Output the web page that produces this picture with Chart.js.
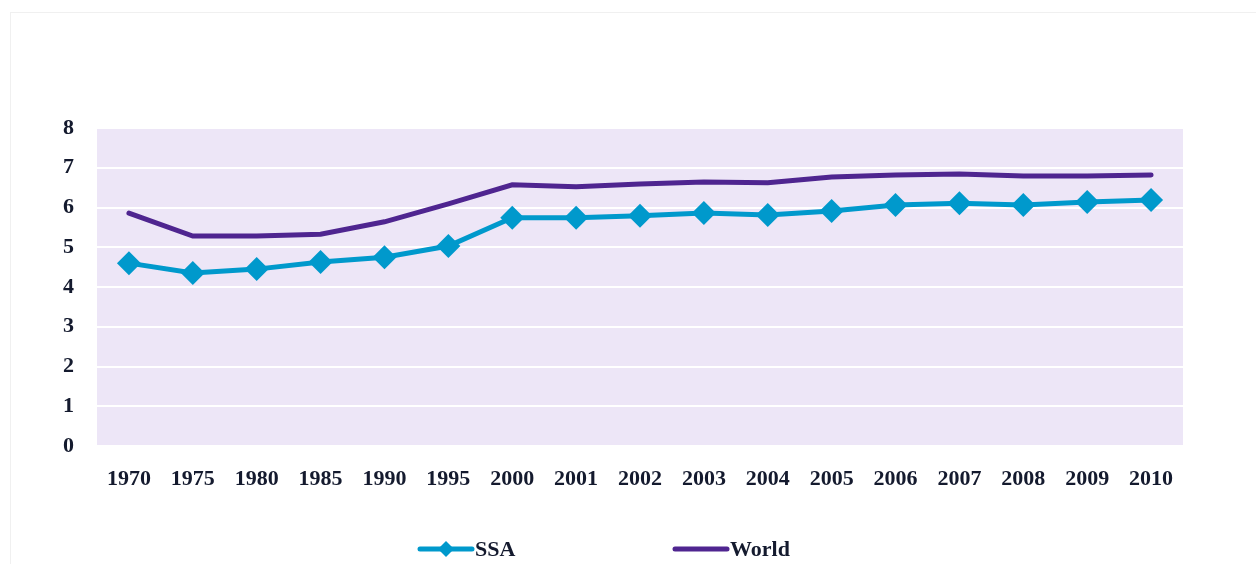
<!DOCTYPE html>
<html>
<head>
<meta charset="utf-8">
<script src="https://cdn.jsdelivr.net/npm/chart.js@4/dist/chart.umd.min.js"></script>
<style>
  html, body { margin: 0; padding: 0; background: #fff; overflow: hidden; }
  .frame { position: absolute; left: 10px; top: 12px; width: 1260px; height: 560px; border: 1px solid #f0f0f0; box-sizing: border-box; }
  .wrap { position: absolute; left: 0; top: 0; width: 1256px; height: 564px; }
</style>
</head>
<body>
<div class="frame"></div>
<div class="wrap"><canvas id="chart"></canvas></div>
<script>
const years = ['1970', '1975', '1980', '1985', '1990', '1995', '2000', '2001', '2002', '2003', '2004', '2005', '2006', '2007', '2008', '2009', '2010']
const ssa = [4.60, 4.35, 4.45, 4.63, 4.75, 5.03, 5.74, 5.74, 5.79, 5.86, 5.81, 5.91, 6.06, 6.11, 6.06, 6.14, 6.19]
const world = [5.86, 5.28, 5.28, 5.33, 5.64, 6.09, 6.57, 6.52, 6.59, 6.64, 6.62, 6.77, 6.82, 6.84, 6.79, 6.79, 6.82]
const yTicks = [0, 1, 2, 3, 4, 5, 6, 7, 8]

const ssaColor = '#0099cc'
const worldColor = '#4f2590'
const textColor = '#141a2e'
const font = { family: '"Liberation Serif", "DejaVu Serif", serif', size: 22, weight: 'bold' }

// lavender plot background
const plotBg = {
  id: 'plotBg',
  beforeDraw(chart){
    const { ctx, chartArea: a } = chart
    ctx.save()
    ctx.fillStyle = '#ede6f7'
    ctx.fillRect(a.left, a.top, a.right - a.left, a.bottom - a.top)
    ctx.restore()
  }
}

// legend drawn under the axis, like the original
const bottomLegend = {
  id: 'bottomLegend',
  afterDraw(chart){
    const ctx = chart.ctx
    const items = [
      { label: 'SSA', color: ssaColor, x: 418, marker: true },
      { label: 'World', color: worldColor, x: 673, marker: false }
    ]
    const y = 549
    ctx.save()
    items.forEach(it => {
      ctx.strokeStyle = it.color
      ctx.lineWidth = 5
      ctx.lineCap = 'round'
      ctx.beginPath()
      ctx.moveTo(it.x + 2, y)
      ctx.lineTo(it.x + 54, y)
      ctx.stroke()
      if (it.marker) {
        ctx.fillStyle = it.color
        ctx.beginPath()
        ctx.moveTo(it.x + 28, y - 8)
        ctx.lineTo(it.x + 36, y)
        ctx.lineTo(it.x + 28, y + 8)
        ctx.lineTo(it.x + 20, y)
        ctx.closePath()
        ctx.fill()
      }
      ctx.fillStyle = textColor
      ctx.font = 'bold 22px "Liberation Serif", serif'
      ctx.textBaseline = 'middle'
      ctx.textAlign = 'left'
      ctx.fillText(it.label, it.x + 57, y + 1)
    })
    ctx.restore()
  }
}

new Chart(
  document.getElementById('chart'),
  {
    type: 'line',
    data: {
      labels: years,
      datasets: [
        {
          label: 'SSA',
          data: ssa,
          borderColor: ssaColor,
          backgroundColor: ssaColor,
          borderWidth: 5,
          pointStyle: 'rectRot',
          pointRadius: 12,
          pointBorderWidth: 0,
          pointBackgroundColor: ssaColor,
          tension: 0
        },
        {
          label: 'World',
          data: world,
          borderColor: worldColor,
          backgroundColor: worldColor,
          borderWidth: 5,
          borderCapStyle: 'round',
          pointRadius: 0,
          tension: 0
        }
      ]
    },
    options: {
      responsive: true,
      maintainAspectRatio: false,
      animation: false,
      layout: { padding: { left: 0, right: 73, top: 128, bottom: 68 } },
      plugins: {
        legend: { display: false },
        tooltip: { enabled: false }
      },
      scales: {
        y: {
          min: 0,
          max: 8,
          afterFit: s => { s.width = 97 },
          afterBuildTicks: s => { s.ticks = yTicks.map(v => ({ value: v })) },
          border: { display: false },
          grid: { color: '#ffffff', lineWidth: 2, drawTicks: false },
          ticks: { color: textColor, font: font, padding: 23 }
        },
        x: {
          offset: true,
          afterFit: s => { s.height = 50 },
          border: { display: false },
          grid: { display: false, drawTicks: false },
          ticks: { color: textColor, font: font, padding: 20, maxRotation: 0, autoSkip: false }
        }
      }
    },
    plugins: [plotBg, bottomLegend]
  }
);
</script>
</body>
</html>
